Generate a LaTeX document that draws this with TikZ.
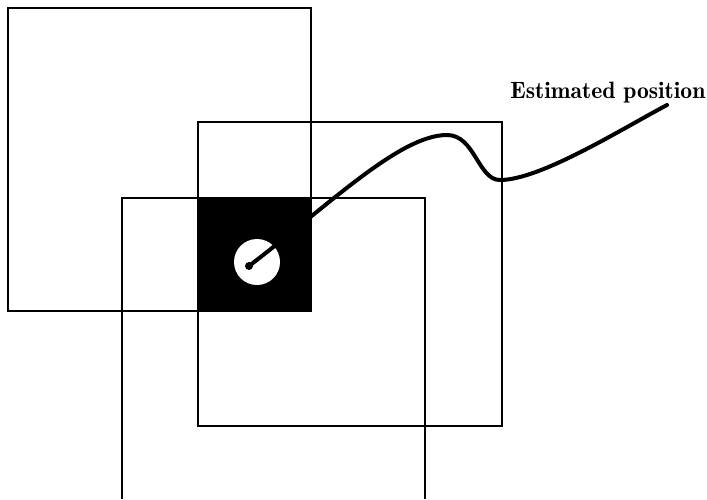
\documentclass[tikz,border=0pt]{standalone}
\usepackage{tikz}
\usetikzlibrary{positioning}

\begin{document}
\begin{tikzpicture}[
      x=0.5pt, y=-0.5pt,
      sq/.style={draw=black, line width=1pt},
      hole/.style={circle, fill=white, minimum size=23pt, inner sep=0pt},
      trace/.style={line width=2pt, line cap=round},
      lbl/.style={font=\fontsize{11.8}{14}\fontseries{b}\selectfont, inner sep=0pt, anchor=base west}]
    \useasboundingbox (0,0) rectangle (707,499);
    % overlap of the three windows
    \fill[black] (198,198) rectangle (311,311);
    \draw[sq] (8,8) rectangle (311,311);
    \draw[sq] (198,122) rectangle (502,426);
    \draw[sq] (122,499) -- (122,198) -- (425,198) -- (425,499);
    \node[hole] (est) at (257,262) {};
    \coordinate (dot) at (249,266);
    \fill (dot) circle (2pt);
    \node[lbl] (estlabel) at (510,98) {Estimated position};
    \coordinate (tip) at (667,105);
    \draw[trace] (dot) .. controls (330,204) and (400,135) .. (447,135)
                       .. controls (475,135) and (478,180) .. (500,180)
                       .. controls (540,180) and (620,130) .. (tip);
  \end{tikzpicture}
\end{document}
